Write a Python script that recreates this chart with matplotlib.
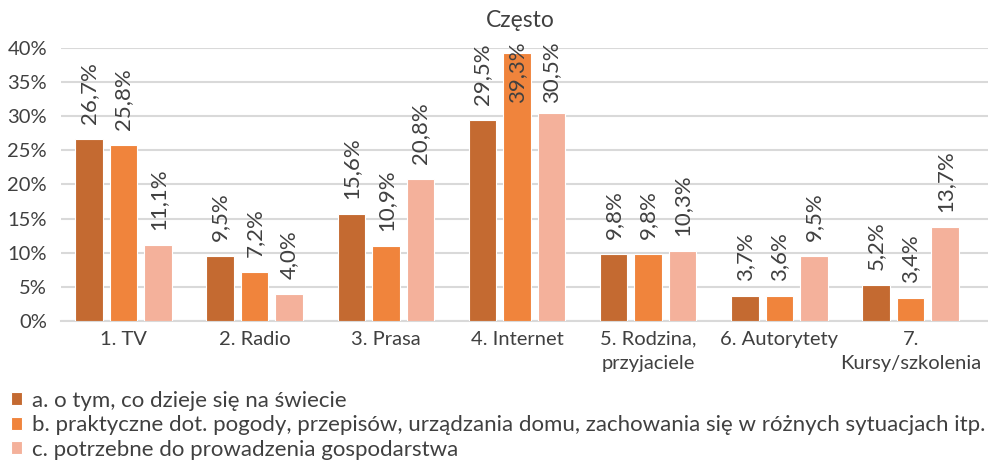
import matplotlib.pyplot as plt
import numpy as np

categories = ["1. TV", "2. Radio", "3. Prasa", "4. Internet",
              "5. Rodzina,\nprzyjaciele", "6. Autorytety", "7.\nKursy/szkolenia"]
series_names = ["a. o tym, co dzieje się na świecie",
                "b. praktyczne dot. pogody, przepisów, urządzania domu, zachowania się w różnych sytuacjach itp.",
                "c. potrzebne do prowadzenia gospodarstwa"]
vals_a = [26.7, 9.5, 15.6, 29.5, 9.8, 3.7, 5.2]
vals_b = [25.8, 7.2, 10.9, 39.3, 9.8, 3.6, 3.4]
vals_c = [11.1, 4.0, 20.8, 30.5, 10.3, 9.5, 13.7]
colors = ["#C46A31", "#F0843C", "#F4B19B"]

plt.rcParams['font.family'] = ['Lato', 'DejaVu Sans']
txt = "#404040"

fig = plt.figure(figsize=(9.88, 4.61), dpi=100)
ax = fig.add_axes([0.0617, 0.304, 0.9383, 0.592])

x = np.arange(len(categories))
w = 0.209
step = 0.263
for i, (vals, col) in enumerate(zip([vals_a, vals_b, vals_c], colors)):
    pos = x + (i - 1) * step
    ax.bar(pos, vals, w, color=col, edgecolor="white", linewidth=0.8,
           label=series_names[i], zorder=3)
    for p, v in zip(pos, vals):
        # labels sit above the bar, but stay inside the plot at the top
        y = min(v + 2.2, 31.9)
        ax.text(p, y, f"{v:.1f}%".replace(".", ","), rotation=90,
                ha="center", va="bottom", fontsize=16, color=txt, zorder=4)

ax.set_ylim(0, 40)
ax.set_xlim(-0.476, 6.59)
ax.set_yticks(range(0, 41, 5))
ax.set_yticklabels([f"{t}%" for t in range(0, 41, 5)])
ax.set_xticks(x)
ax.set_xticklabels(categories, linespacing=1.5)
ax.tick_params(axis="both", length=0, labelsize=14.5, colors=txt)
ax.tick_params(axis="x", pad=7)
ax.tick_params(axis="y", pad=10)
ax.grid(axis="y", color="#D9D9D9", linewidth=1.5, zorder=0)
for s in ["top", "right", "left"]:
    ax.spines[s].set_visible(False)
ax.spines["bottom"].set_color("#D9D9D9")
ax.spines["bottom"].set_linewidth(1.5)

fig.text(0.527, 0.955, "Często", ha="center", va="center", fontsize=16.5, color=txt)

fig.legend(loc="upper left", bbox_to_anchor=(0.004, 0.167), bbox_transform=fig.transFigure,
           frameon=False, fontsize=16, labelcolor=txt, handlelength=0.5, handleheight=0.5,
           handletextpad=0.45, labelspacing=0.2, borderaxespad=0, borderpad=0.3)

fig.savefig("out.png", dpi=100)
